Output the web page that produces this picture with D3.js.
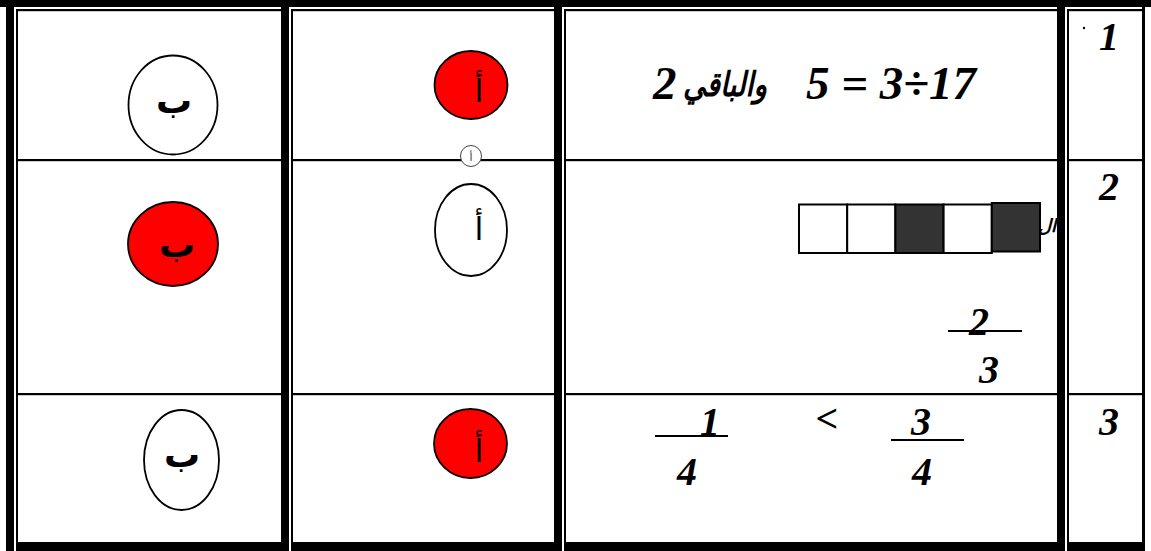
<!DOCTYPE html>
<html>
<head>
<meta charset="utf-8">
<script src="https://cdn.jsdelivr.net/npm/d3@7"></script>
<style>
  body { margin: 0; background: #fff; }
</style>
</head>
<body>
<div id="chart"></div>
<script>
// ---- content read from the worksheet ----
const questionNumbers = ["1", "2", "3"];
const letterB = "ب";
const letterA = "أ";
const chosenAnswers = ["أ", "ب", "أ"];           // red bubble per question
const q1Parts = ["2", "والباقي", "5 = 3÷17"];    // left to right
const q2Squares = [0, 0, 1, 0, 1];               // 1 = shaded, left to right
const q2Label = "ال";
const fractions = [
  { num: "2", den: "3" },
  { num: "1", den: "4" },
  { num: "3", den: "4" }
];
const q3Sign = "<";

// ---- layout ----
const W = 1151, H = 551;
const colEdges = [6, 281, 554, 1057];
const rowLines = [160, 394];
const serif = "'Liberation Serif', 'Times New Roman', 'DejaVu Sans', serif";
const arabic = "'DejaVu Sans', sans-serif";

const svg = d3.select("#chart").append("svg")
  .attr("width", W)
  .attr("height", H);

svg.append("rect").attr("width", W).attr("height", H).attr("fill", "#fff");

// row positions by question
const rowY = d3.scaleOrdinal().domain(questionNumbers).range([50, 200, 435]);

// thin horizontal rules (drawn first, verticals break them)
svg.selectAll(".hrule")
  .data([10, ...rowLines])
  .enter().append("rect")
  .attr("x", 16).attr("y", d => d - 1)
  .attr("width", 1126).attr("height", 2.2)
  .attr("fill", "#000");

// thick top and bottom bands
svg.append("rect").attr("x", 0).attr("y", 0).attr("width", W).attr("height", 7).attr("fill", "#000");
svg.append("rect").attr("x", 6).attr("y", 542).attr("width", 1137).attr("height", 9).attr("fill", "#000");

// thick-thin vertical borders
const vb = svg.selectAll(".vborder").data(colEdges).enter().append("g");
vb.append("rect").attr("x", d => d).attr("y", 0).attr("width", 8).attr("height", H).attr("fill", "#000");
vb.append("rect").attr("x", d => d + 8).attr("y", 7).attr("width", 2).attr("height", H - 7).attr("fill", "#fff");
vb.append("rect").attr("x", d => d + 10).attr("y", 9).attr("width", 2).attr("height", 533).attr("fill", "#000");
svg.append("rect").attr("x", 1142).attr("y", 0).attr("width", 3).attr("height", H).attr("fill", "#000");

// ---- answer bubbles ----
const bubblesB = [
  { cx: 173, cy: 105, rx: 44.5, ry: 49.5, tx: 174, ty: 113 },
  { cx: 173, cy: 244, rx: 45, ry: 42, tx: 177, ty: 257 },
  { cx: 181.5, cy: 460, rx: 37.5, ry: 50, tx: 182, ty: 467 }
];
const bubblesA = [
  { cx: 471, cy: 85, rx: 36.5, ry: 34, tx: 479, ty: 102 },
  { cx: 471, cy: 230, rx: 36, ry: 46, tx: 479, ty: 240 },
  { cx: 470.5, cy: 443.5, rx: 36.5, ry: 34.5, tx: 479, ty: 462 }
];

function drawBubbles(layout, letter, weight, size) {
  const g = svg.selectAll(null)
    .data(questionNumbers.map((q, i) => ({ q, i, ...layout[i] })))
    .enter().append("g");
  g.append("ellipse")
    .attr("cx", d => d.cx).attr("cy", d => d.cy)
    .attr("rx", d => d.rx).attr("ry", d => d.ry)
    .attr("fill", d => chosenAnswers[d.i] === letter ? "#ff0000" : "#fff")
    .attr("stroke", "#000").attr("stroke-width", 1.8);
  g.append("text")
    .attr("x", d => d.tx).attr("y", d => d.ty)
    .attr("text-anchor", "middle")
    .style("font-family", arabic)
    .style("font-weight", weight)
    .style("font-size", size + "px")
    .text(letter);
}
drawBubbles(bubblesB, letterB, "bold", 36);
drawBubbles(bubblesA, letterA, "normal", 32);

// small marker circle on the rule
svg.append("circle").attr("cx", 471).attr("cy", 156).attr("r", 10.5)
  .attr("fill", "#fff").attr("stroke", "#444").attr("stroke-width", 1);
svg.append("text").attr("x", 471).attr("y", 161).attr("text-anchor", "middle")
  .style("font-family", arabic).style("font-size", "11px").attr("fill", "#444").text(letterA);

// ---- question numbers ----
svg.selectAll(".qnum")
  .data(questionNumbers)
  .enter().append("text")
  .attr("x", 1109).attr("y", d => rowY(d))
  .attr("text-anchor", "middle")
  .style("font-family", serif).style("font-weight", "bold").style("font-style", "italic")
  .style("font-size", "40px")
  .text(d => d);
svg.append("circle").attr("cx", 1084).attr("cy", 28).attr("r", 1.2).attr("fill", "#000");

// ---- question 1 ----
const q1 = svg.append("g");
q1.append("text").attr("x", 653).attr("y", 99)
  .style("font-family", serif).style("font-weight", "bold").style("font-style", "italic")
  .style("font-size", "47px").text(q1Parts[0]);
q1.append("text").attr("x", 683).attr("y", 96)
  .attr("textLength", 84).attr("lengthAdjust", "spacingAndGlyphs")
  .style("font-family", arabic).style("font-weight", "bold").style("font-style", "italic")
  .style("font-size", "34px").text(q1Parts[1]);
q1.append("text").attr("x", 976).attr("y", 99).attr("text-anchor", "end")
  .style("font-family", serif).style("font-weight", "bold").style("font-style", "italic")
  .style("font-size", "47px").text(q1Parts[2]);

// ---- question 2: strip of squares ----
svg.append("text").attr("x", 1056).attr("y", 232).attr("text-anchor", "end")
  .style("font-family", arabic).style("font-weight", "bold").style("font-style", "italic")
  .style("font-size", "18px").text(q2Label);

const sx = d3.scaleBand().domain(d3.range(q2Squares.length)).range([799, 1040]).padding(0);
svg.selectAll(".sq")
  .data(q2Squares)
  .enter().append("rect")
  .attr("x", (d, i) => sx(i)).attr("y", (d, i) => i === 4 ? 203 : 204.5)
  .attr("width", sx.bandwidth()).attr("height", 48.5)
  .attr("fill", d => d ? "#333333" : "#fff")
  .attr("stroke", "#000").attr("stroke-width", 2);

// ---- fractions ----
const fracLayout = [
  { nx: 979, ny: 335, dx: 989, dy: 383, x1: 948, x2: 1022, ly: 331 },
  { nx: 710, ny: 435, dx: 687, dy: 485, x1: 655, x2: 728, ly: 436 },
  { nx: 921, ny: 435, dx: 922, dy: 485, x1: 891, x2: 964, ly: 440 }
];
const fg = svg.selectAll(".frac")
  .data(fractions.map((f, i) => ({ ...f, ...fracLayout[i] })))
  .enter().append("g");
fg.append("line")
  .attr("x1", d => d.x1).attr("x2", d => d.x2)
  .attr("y1", d => d.ly).attr("y2", d => d.ly)
  .attr("stroke", "#000").attr("stroke-width", 2);
fg.append("text").attr("x", d => d.nx).attr("y", d => d.ny)
  .attr("text-anchor", "middle")
  .style("font-family", serif).style("font-weight", "bold").style("font-style", "italic")
  .style("font-size", "40px").text(d => d.num);
fg.append("text").attr("x", d => d.dx).attr("y", d => d.dy)
  .attr("text-anchor", "middle")
  .style("font-family", serif).style("font-weight", "bold").style("font-style", "italic")
  .style("font-size", "40px").text(d => d.den);

svg.append("text").attr("x", 827).attr("y", 432).attr("text-anchor", "middle")
  .style("font-family", serif).style("font-weight", "bold").style("font-style", "italic")
  .style("font-size", "40px").text(q3Sign);
</script>
</body>
</html>
